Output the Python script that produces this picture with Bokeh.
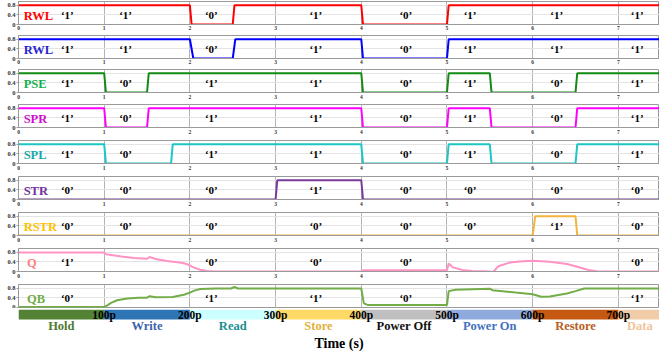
from bokeh.plotting import figure
from bokeh.layouts import column
from bokeh.models import Range1d, FixedTicker
from bokeh.core.properties import value
from bokeh.embed import file_html
from bokeh.resources import INLINE

# ---------------- data ----------------
X_TICKS = [0, 1, 2, 3, 4, 5, 6, 7]
Y_TICKS = [0, 0.4, 0.8]

RWL1_T = [0, 2.0, 2.02, 2.5, 2.52, 4.0, 4.02, 5.0, 5.02, 7.5]
RWL1_V = [0.8, 0.8, 0, 0, 0.8, 0.8, 0, 0, 0.8, 0.8]
RWL2_T = [0, 2.0, 2.04, 2.5, 2.53, 4.0, 4.02, 5.0, 5.02, 7.5]
RWL2_V = [0.8, 0.8, 0, 0, 0.8, 0.8, 0, 0, 0.8, 0.8]
PSE_T = [0, 1.0, 1.02, 1.5, 1.52, 4.0, 4.02, 5.0, 5.02, 5.5, 5.52, 6.5, 6.52, 7.5]
PSE_V = [0.8, 0.8, 0, 0, 0.8, 0.8, 0, 0, 0.8, 0.8, 0, 0, 0.8, 0.8]
SPR_T = [0, 1.0, 1.02, 1.5, 1.52, 4.0, 4.02, 5.0, 5.02, 5.5, 5.52, 6.5, 6.52, 7.5]
SPR_V = [0.8, 0.8, 0, 0, 0.8, 0.8, 0, 0, 0.8, 0.8, 0, 0, 0.8, 0.8]
SPL_T = [0, 1.0, 1.02, 1.78, 1.8, 4.0, 4.02, 5.0, 5.02, 5.5, 5.52, 6.5, 6.52, 7.5]
SPL_V = [0.8, 0.8, 0, 0, 0.8, 0.8, 0, 0, 0.8, 0.8, 0, 0, 0.8, 0.8]
STR_T = [0, 3.0, 3.02, 4.0, 4.02, 7.5]
STR_V = [0, 0, 0.8, 0.8, 0, 0]
RSTR_T = [0, 6.0, 6.03, 6.5, 6.52, 7.5]
RSTR_V = [0, 0, 0.8, 0.8, 0, 0]
Q_T = [0, 1.0, 1.02, 1.2, 1.35, 1.5, 1.53, 1.6, 1.73, 1.9, 1.97, 2.05, 2.12,
       2.2, 2.3, 4.0, 4.02, 5.0, 5.02, 5.07, 5.18, 5.3, 5.5, 5.53, 5.6, 5.73,
       5.85, 6.0, 6.2, 6.4, 6.52, 6.65, 6.75, 7.5]
Q_V = [0.79, 0.79, 0.72, 0.62, 0.56, 0.53, 0.6, 0.52, 0.44, 0.36, 0.3, 0.16,
       0.07, 0.02, 0.0, 0.0, 0.05, 0.05, 0.33, 0.17, 0.06, 0.02, 0.0, -0.05,
       0.22, 0.37, 0.42, 0.45, 0.4, 0.31, 0.2, 0.06, 0.01, 0.0]
QB_T = [0, 1.0, 1.04, 1.08, 1.15, 1.27, 1.4, 1.5, 1.53, 1.6, 1.8, 1.93, 2.0,
        2.05, 2.12, 2.3, 2.48, 2.52, 2.56, 3.0, 4.0, 4.03, 4.08, 5.0, 5.02,
        5.1, 5.5, 5.53, 5.8, 6.0, 6.1, 6.2, 6.4, 6.5, 6.6, 7.5]
QB_V = [0.02, 0.02, 0.1, 0.19, 0.3, 0.37, 0.4, 0.41, 0.47, 0.43, 0.44, 0.53,
        0.62, 0.7, 0.77, 0.79, 0.79, 0.85, 0.79, 0.79, 0.79, 0.17, 0.1, 0.1,
        0.68, 0.74, 0.78, 0.72, 0.62, 0.55, 0.45, 0.46, 0.58, 0.68, 0.79, 0.79]

LOGIC_T = [0.57, 1.25, 2.25, 3.47, 4.52, 5.27, 6.28, 7.22]
RWL1_LOGIC = ["1", "1", "0", "1", "0", "1", "1", "1"]
RWL2_LOGIC = ["1", "1", "0", "1", "0", "1", "1", "1"]
PSE_LOGIC = ["1", "0", "1", "1", "0", "1", "0", "1"]
SPR_LOGIC = ["1", "0", "1", "1", "0", "1", "0", "1"]
SPL_LOGIC = ["1", "0", "1", "1", "0", "1", "0", "1"]
STR_LOGIC = ["0", "0", "0", "1", "0", "0", "0", "0"]
RSTR_LOGIC = ["0", "0", "0", "0", "0", "0", "1", "0"]
QQB_LOGIC_T = [0.57, 2.25, 3.47, 4.52, 7.22]
Q_LOGIC = ["1", "0", "0", "0", "0"]
QB_LOGIC = ["0", "1", "1", "0", "1"]

SIGNAL_NAMES = ["RWL", "RWL", "PSE", "SPR", "SPL", "STR", "RSTR", "Q", "QB"]
LINE_COLORS = ["#ff0000", "#0000ff", "#138a13", "#ff00ff", "#1cc6c6",
               "#7a3a9a", "#f2b43c", "#ff93c4", "#72ad48"]
NAME_COLORS = ["#ff0000", "#2626d0", "#13b050", "#cc10cc", "#1aa9a9",
               "#7030a0", "#ffc000", "#ff7f7f", "#70ad47"]
NAME_T = [0.06, 0.06, 0.06, 0.06, 0.06, 0.06, 0.06, 0.1, 0.1]

PHASE_START = [0, 1, 2, 3, 4, 5, 6, 7]
PHASE_END = [1, 2, 3, 4, 5, 6, 7, 7.5]
PHASE_NAMES = ["Hold", "Write", "Read", "Store", "Power Off", "Power On",
               "Restore", "Data"]
PHASE_BAR_COLORS = ["#548235", "#2e75b6", "#ccffff", "#ffd966", "#bfbfbf",
                    "#8faadc", "#c65911", "#f0cda8"]
PHASE_TEXT_COLORS = ["#4f7a32", "#3b64ad", "#1a9090", "#e2b03c", "#111111",
                     "#4470c0", "#b8601e", "#efc59a"]
BOUNDARY_T = [1, 2, 3, 4, 5, 6, 7]
BOUNDARY_LABELS = ["100p", "200p", "300p", "400p", "500p", "600p", "700p"]
X_LABEL = "Time (s)"

# ---------------- layout ----------------
FONT = value("Liberation Serif")
W = 659
X_RANGE = Range1d(0, 7.48)
ROW_HEIGHTS = [34, 34, 35, 36, 36, 36, 36, 36, 25]
ROW_BOTTOM = [10, 10, 11, 12, 12, 12, 12, 12, 1]
ROW_STANDOFF = [1, 1, 2, 2, 2, 2, 2, 2, 1]

rows = [
    (RWL1_T, RWL1_V, LOGIC_T, RWL1_LOGIC),
    (RWL2_T, RWL2_V, LOGIC_T, RWL2_LOGIC),
    (PSE_T, PSE_V, LOGIC_T, PSE_LOGIC),
    (SPR_T, SPR_V, LOGIC_T, SPR_LOGIC),
    (SPL_T, SPL_V, LOGIC_T, SPL_LOGIC),
    (STR_T, STR_V, LOGIC_T, STR_LOGIC),
    (RSTR_T, RSTR_V, LOGIC_T, RSTR_LOGIC),
    (Q_T, Q_V, QQB_LOGIC_T, Q_LOGIC),
    (QB_T, QB_V, QQB_LOGIC_T, QB_LOGIC),
]

figs = []
for i, (t, v, lt, lv) in enumerate(rows):
    last = i == len(rows) - 1
    p = figure(width=W, height=ROW_HEIGHTS[i], x_range=X_RANGE,
               y_range=Range1d(0, 0.955), output_backend="svg",
               toolbar_location=None, min_border_left=18, min_border_right=0,
               min_border_top=1, min_border_bottom=ROW_BOTTOM[i])
    p.outline_line_color = "#9a9a9a"
    p.background_fill_color = "white"
    p.xgrid.ticker = FixedTicker(ticks=X_TICKS)
    p.xgrid.grid_line_color = "#b4b4b4"
    p.ygrid.ticker = FixedTicker(ticks=Y_TICKS)
    p.ygrid.grid_line_color = "#e4e4e4"

    xa = p.xaxis[0]
    xa.ticker = FixedTicker(ticks=X_TICKS)
    xa.major_label_text_font = "Liberation Serif"
    xa.major_label_text_font_style = "bold"
    xa.major_label_text_font_size = "5.5px"
    xa.major_label_text_color = "#333333"
    xa.major_label_standoff = ROW_STANDOFF[i]
    xa.major_tick_out = 0
    xa.major_tick_in = 0
    xa.minor_tick_line_color = None
    xa.axis_line_color = "#9a9a9a"
    if last:
        xa.visible = False

    ya = p.yaxis[0]
    ya.ticker = FixedTicker(ticks=Y_TICKS)
    ya.major_label_overrides = {0: "0", 0.4: "0.4", 0.8: "0.8"}
    ya.major_label_text_font = "Liberation Serif"
    ya.major_label_text_font_style = "bold"
    ya.major_label_text_font_size = "6.5px"
    ya.major_label_text_color = "#333333"
    ya.major_label_standoff = 1
    ya.major_tick_out = 2
    ya.major_tick_in = 0
    ya.major_tick_line_color = "#9a9a9a"
    ya.minor_tick_line_color = None
    ya.axis_line_color = "#9a9a9a"

    p.line(t, v, line_color=LINE_COLORS[i], line_width=2)
    p.text(x=[NAME_T[i]], y=[0.37], text=[SIGNAL_NAMES[i]],
           text_color=NAME_COLORS[i], text_font=FONT, text_font_style="bold",
           text_font_size="12.5px", text_align="left", text_baseline="middle")
    p.text(x=lt, y=[0.4] * len(lt), text=["\u2018" + s + "\u2019" for s in lv],
           text_color="black", text_font=FONT, text_font_style="bold",
           text_font_size="11px", text_align="center", text_baseline="middle")
    figs.append(p)

# phase bar
b = figure(width=W, height=47, x_range=X_RANGE, y_range=Range1d(-1.3, 1),
           output_backend="svg", toolbar_location=None, min_border_left=18,
           min_border_right=0, min_border_top=1, min_border_bottom=23)
b.outline_line_color = None
b.grid.grid_line_color = None
b.yaxis.visible = False
b.quad(left=PHASE_START, right=PHASE_END, bottom=0, top=1,
       fill_color=PHASE_BAR_COLORS, line_color=None)
b.text(x=BOUNDARY_T, y=[0.45] * len(BOUNDARY_T), text=BOUNDARY_LABELS,
       text_color="black", text_font=FONT, text_font_style="bold",
       text_font_size="11.5px", text_align="center", text_baseline="middle")
mids = [(a + c) / 2 for a, c in zip(PHASE_START, PHASE_END)]
b.text(x=mids, y=[-0.68] * len(mids), text=PHASE_NAMES,
       text_color=PHASE_TEXT_COLORS, text_font=FONT, text_font_style="bold",
       text_font_size="12.5px", text_align="center", text_baseline="middle")
bx = b.xaxis[0]
bx.ticker = FixedTicker(ticks=[])
bx.axis_line_color = None
bx.major_tick_out = 0
bx.major_tick_in = 0
bx.minor_tick_line_color = None
bx.axis_label = X_LABEL
bx.axis_label_text_font = "Liberation Serif"
bx.axis_label_text_font_style = "bold"
bx.axis_label_text_font_size = "14px"
bx.axis_label_text_color = "black"
bx.axis_label_standoff = 3
bx.major_label_standoff = 0
figs.append(b)

layout = column(*figs, spacing=0)
open("out.html", "w").write(file_html(layout, INLINE))
